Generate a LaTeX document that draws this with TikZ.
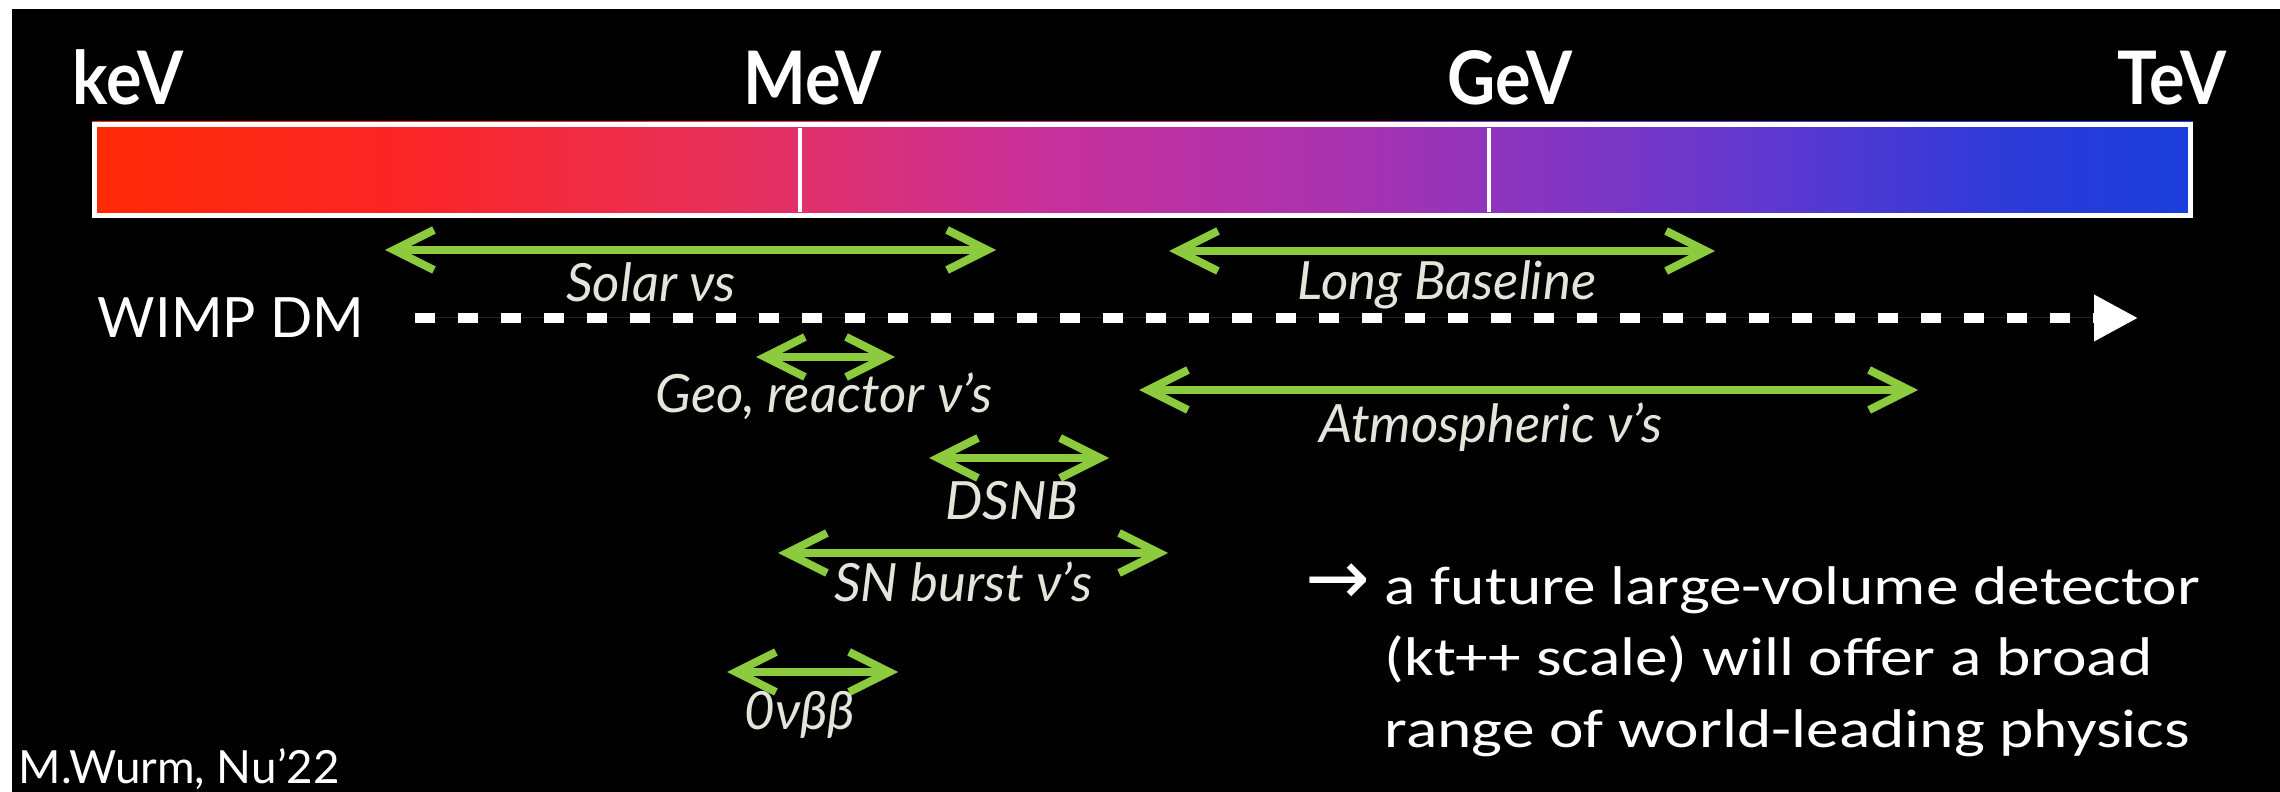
\documentclass[tikz,border=0pt]{standalone}
\usepackage{fontspec}
\setmainfont{Lato}
\newfontfamily\scalefont[FakeStretch=0.9]{Lato}
\newfontfamily\notefont[FakeStretch=1.2]{Carlito}
\newfontfamily\symbfont{DejaVu Sans}
\usetikzlibrary{arrows.meta}
\definecolor{rangegreen}{HTML}{8CCB3E}
\definecolor{labelgray}{HTML}{E2E6DA}
\definecolor{barred}{HTML}{FF2A05}
\definecolor{barrose}{HTML}{FA2525}
\definecolor{barcrimson}{HTML}{E8305A}
\definecolor{barpink}{HTML}{C8309A}
\definecolor{barmagenta}{HTML}{A832B0}
\definecolor{barpurple}{HTML}{9234BC}
\definecolor{barviolet}{HTML}{5E38D0}
\definecolor{barblue}{HTML}{2A3AD8}
\definecolor{bardeep}{HTML}{1A3EDC}
\pgfdeclarehorizontalshading{energybar}{100bp}{color(0bp)=(barred); color(25bp)=(barred);
	color(32.5bp)=(barrose); color(40bp)=(barcrimson); color(47.5bp)=(barpink);
	color(55bp)=(barmagenta); color(58bp)=(barpurple); color(65bp)=(barviolet);
	color(71bp)=(barblue); color(75bp)=(bardeep); color(100bp)=(bardeep)}
\tikzset{
	scalelabel/.style={text=white, font=\scalefont\bfseries\fontsize{21}{24}\selectfont,
		anchor=base, inner sep=0pt},
	rangelabel/.style={text=labelgray, font=\itshape\fontsize{15}{18}\selectfont,
		anchor=base, inner sep=0pt},
	rangearr/.style={{Straight Barb[length=0.4cm, width=0.4cm]}-{Straight Barb[length=0.4cm, width=0.4cm]},
		line width=0.08cm, draw=rangegreen},
	wimparr/.style={-{Triangle[length=0.44cm, width=0.44cm]}, line width=0.1cm, draw=white,
		fill=white, dash pattern=on 0.2cm off 0.23cm},
	bartick/.style={line width=0.04cm, draw=white}
}

\begin{document}
\begin{tikzpicture}[x=0.01cm, y=-0.01cm]
	\useasboundingbox (0,0) rectangle (2280,792);
	\fill[white] (0,0) rectangle (2280,792);
	\fill[black] (12,9) rectangle (2280,792);

	% energy scale
	\shade[shading=energybar] (92,122) rectangle (2193,218);
	\draw[white, line width=0.05cm] (94.5,124.5) rectangle (2190.5,215.5);
	\draw[bartick] (800,128) -- (800,212);
	\draw[bartick] (1489,128) -- (1489,212);
	\node[scalelabel] (kev) at (128,105) {keV};
	\node[scalelabel] (mev) at (813,105) {MeV};
	\node[scalelabel] (gev) at (1510,105) {GeV};
	\node[scalelabel] (tev) at (2172,105) {TeV};

	% ranges
	\foreach \nm/\xa/\xb/\yy in {solar/385/996/250, longbase/1169/1715/251, geo/756/895/357,
		atmo/1139/1918/390, dsnb/929/1109/458, snburst/778/1168/553, dbd/727/898/672}{
		\coordinate (\nm-l) at (\xa,\yy);
		\coordinate (\nm-r) at (\xb,\yy);
		\draw[rangearr] (\nm-l) -- (\nm-r);
	}
	\node[rangelabel] (solarlbl) at (651,302) {Solar νs};
	\node[rangelabel] (longbaselbl) at (1447,300) {Long Baseline};
	\node[rangelabel] (geolbl) at (824,413) {Geo, reactor ν’s};
	\node[rangelabel] (atmolbl) at (1491,443) {Atmospheric ν’s};
	\node[rangelabel] (dsnblbl) at (1012,520) {DSNB};
	\node[rangelabel] (snburstlbl) at (963,602) {SN burst ν’s};
	\node[rangelabel] (dbdlbl) at (800,729) {0νββ};

	% dark matter
	\node[text=white, font=\fontsize{15.8}{18}\selectfont, anchor=base, inner sep=0pt] (wimp) at (231,338) {WIMP DM};
	\coordinate (dm-start) at (415,318);
	\coordinate (dm-end) at (2138,318);
	\draw[wimparr] (dm-start) -- (dm-end);

	% conclusion
	\node[text=white, font=\notefont\fontsize{15.5}{20.2}\selectfont, align=left, anchor=base west, inner sep=0pt]
		(outlook) at (1384,747) {\llap{\symbfont\fontsize{22}{22}\selectfont →\hspace{4pt}}a future large-volume detector\\
		(kt++ scale) will offer a broad\\range of world-leading physics};
	\node[text=white, font=\fontsize{13}{15}\selectfont, anchor=base west, inner sep=0pt] (credit) at (18,783) {M.Wurm, Nu’22};
\end{tikzpicture}
\end{document}
